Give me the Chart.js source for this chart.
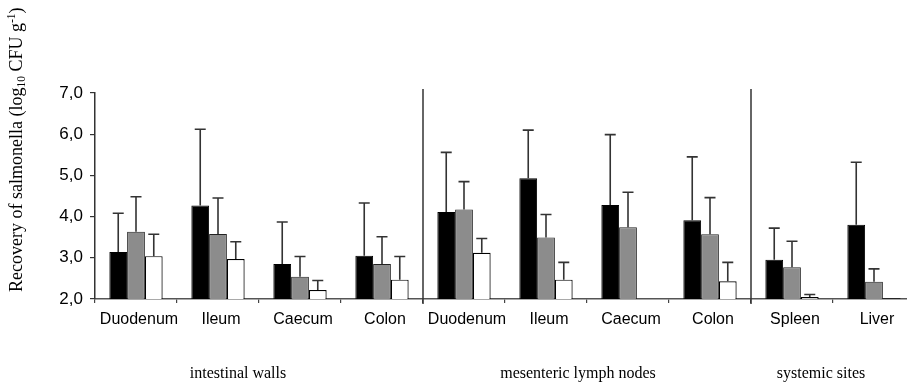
<!DOCTYPE html>
<html>
<head>
<meta charset="utf-8">
<script src="https://cdn.jsdelivr.net/npm/chart.js@4/dist/chart.umd.min.js"></script>
<style>
  html, body { margin: 0; padding: 0; background: #fff; overflow: hidden; }
  #wrap { width: 915px; height: 382px; position: relative; }
</style>
</head>
<body>
<div id="wrap"><canvas id="c" width="915" height="382"></canvas></div>
<script>
// ---- data ----
const categories = ['Duodenum', 'Ileum', 'Caecum', 'Colon', 'Duodenum', 'Ileum', 'Caecum', 'Colon', 'Spleen', 'Liver'];
const groupLabels = ['intestinal walls', 'mesenteric lymph nodes', 'systemic sites'];
const groupRanges = [[0, 3], [4, 7], [8, 9]];
const yTicks = [2, 3, 4, 5, 6, 7];

const blackMeans = [3.14, 4.27, 2.85, 3.05, 4.11, 4.93, 4.28, 3.91, 2.95, 3.80];
const blackSD    = [0.94, 1.85, 1.02, 1.28, 1.45, 1.17, 1.71, 1.54, 0.77, 1.52];
const grayMeans  = [3.63, 3.58, 2.54, 2.85, 4.17, 3.49, 3.74, 3.57, 2.77, 2.42];
const graySD     = [0.85, 0.87, 0.49, 0.66, 0.68, 0.56, 0.85, 0.89, 0.63, 0.31];
const whiteMeans = [3.04, 2.97, 2.22, 2.47, 3.12, 2.47, null, 2.43, 2.05, 2.02];
const whiteSD    = [0.53, 0.42, 0.23, 0.56, 0.35, 0.42, null, 0.46, 0.06, null];

// ---- style ----
const groupLabelShift = [-21, -9, -12];

const errorBarPlugin = {
  id: 'errorBars',
  afterDatasetsDraw(chart) {
    const ctx = chart.ctx;
    const ys = chart.scales.y;
    chart.data.datasets.forEach((ds, i) => {
      const meta = chart.getDatasetMeta(i);
      meta.data.forEach((bar, j) => {
        const v = ds.data[j];
        const sd = ds.sd[j];
        if (v == null || sd == null) return;
        const yTop = ys.getPixelForValue(v + sd);
        ctx.save();
        ctx.strokeStyle = '#333';
        ctx.lineWidth = 1.6;
        ctx.beginPath();
        ctx.moveTo(bar.x, bar.y);
        ctx.lineTo(bar.x, yTop);
        ctx.moveTo(bar.x - 5.5, yTop);
        ctx.lineTo(bar.x + 5.5, yTop);
        ctx.stroke();
        ctx.restore();
      });
    });
  }
};

const decorPlugin = {
  id: 'decor',
  afterDraw(chart) {
    const ctx = chart.ctx;
    const xs = chart.scales.x;
    const area = chart.chartArea;
    const step = xs.getPixelForValue(1) - xs.getPixelForValue(0);
    ctx.save();
    // group separators
    ctx.strokeStyle = '#333';
    ctx.lineWidth = 1.5;
    [4, 8].forEach(idx => {
      const x = xs.getPixelForValue(idx) - step / 2;
      ctx.beginPath();
      ctx.moveTo(x, area.top - 4);
      ctx.lineTo(x, area.bottom + 5);
      ctx.stroke();
    });
    // group labels
    ctx.fillStyle = '#000';
    ctx.font = '16px "Liberation Serif", "Times New Roman", serif';
    ctx.textAlign = 'center';
    ctx.textBaseline = 'alphabetic';
    groupLabels.forEach((lab, k) => {
      const [a, b] = groupRanges[k];
      const x0 = xs.getPixelForValue(a) - step / 2;
      const x1 = xs.getPixelForValue(b) + step / 2;
      ctx.fillText(lab, (x0 + x1) / 2 + groupLabelShift[k], 378);
    });
    // y axis title with sub/superscript
    ctx.translate(17, 292);
    ctx.rotate(-Math.PI / 2);
    ctx.textAlign = 'left';
    ctx.textBaseline = 'middle';
    const big = '18px "Liberation Serif", "Times New Roman", serif';
    const small = '11.5px "Liberation Serif", "Times New Roman", serif';
    const parts = [
      ['Recovery of salmonella (log', big, 0],
      ['10', small, 5],
      [' CFU g', big, 0],
      ['-1', small, -5],
      [')', big, 0]
    ];
    let cx = 0;
    parts.forEach(([t, f, dy]) => {
      ctx.font = f;
      ctx.fillText(t, cx, dy);
      cx += ctx.measureText(t).width;
    });
    ctx.restore();
  }
};

new Chart(document.getElementById('c'), {
  type: 'bar',
  data: {
    labels: categories,
    datasets: [
      { data: blackMeans, sd: blackSD, backgroundColor: '#000', borderColor: '#000', borderWidth: 1 },
      { data: grayMeans, sd: graySD, backgroundColor: '#8c8c8c', borderColor: '#222', borderWidth: 1 },
      { data: whiteMeans, sd: whiteSD, backgroundColor: '#fff', borderColor: '#000', borderWidth: 1.2 }
    ]
  },
  options: {
    responsive: false,
    animation: false,
    devicePixelRatio: 1,
    layout: { padding: { top: 93, left: 0, right: 0, bottom: 0 } },
    datasets: { bar: { categoryPercentage: 0.65, barPercentage: 1.0 } },
    plugins: { legend: { display: false }, tooltip: { enabled: false } },
    scales: {
      x: {
        offset: true,
        grid: { offset: true, drawOnChartArea: false, drawTicks: true, tickLength: 4, tickColor: '#444', lineWidth: 1.2 },
        border: { display: true, color: '#555', width: 1.5 },
        ticks: {
          color: '#000', autoSkip: false, maxRotation: 0, padding: 7, labelOffset: 3,
          font: { family: '"Liberation Sans", Arial, sans-serif', size: 16 }
        },
        afterFit(s) { s.height = 83; }
      },
      y: {
        min: yTicks[0], max: yTicks[yTicks.length - 1],
        ticks: {
          stepSize: 0.5, color: '#000', padding: 7,
          font: { family: '"Liberation Sans", Arial, sans-serif', size: 17 },
          callback: v => (yTicks.includes(v) ? v.toFixed(1).replace('.', ',') : '')
        },
        grid: { drawOnChartArea: false, drawTicks: true, tickLength: 5, tickColor: '#333', lineWidth: 1.2 },
        border: { display: true, color: '#333', width: 1.5 },
        afterFit(s) { s.width = 95; }
      }
    }
  },
  plugins: [errorBarPlugin, decorPlugin]
});
</script>
</body>
</html>
